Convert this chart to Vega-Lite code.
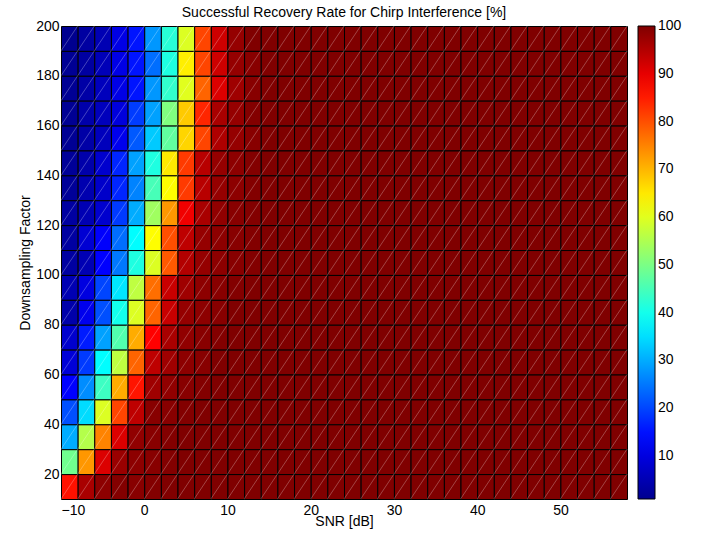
{
  "$schema": "https://vega.github.io/schema/vega-lite/v6.json",
  "width": 566,
  "height": 473,
  "autosize": {"type": "none"},
  "padding": {"left": 61, "top": 26, "right": 76, "bottom": 36},
  "background": "#ffffff",
  "title": {
    "text": "Successful Recovery Rate for Chirp Interference [%]",
    "font": "Liberation Sans",
    "fontSize": 14,
    "fontWeight": "normal",
    "color": "#000000",
    "anchor": "middle",
    "frame": "group",
    "baseline": "alphabetic",
    "offset": -12
  },
  "config": {
    "view": {"stroke": null},
    "font": "Liberation Sans",
    "axis": {
      "labelFont": "Liberation Sans",
      "labelFontSize": 14,
      "labelColor": "#000000",
      "titleFont": "Liberation Sans",
      "titleFontSize": 14,
      "titleFontWeight": "normal",
      "titleColor": "#000000",
      "ticks": false,
      "domain": false,
      "grid": false
    }
  },
  "data": {
    "values": [
      {"snr":-10,"factor":190,"rate":1},{"snr":-8,"factor":190,"rate":3},{"snr":-6,"factor":190,"rate":5},{"snr":-4,"factor":190,"rate":10.5},{"snr":-2,"factor":190,"rate":15.3},{"snr":0,"factor":190,"rate":28},{"snr":2,"factor":190,"rate":42},{"snr":4,"factor":190,"rate":59.5},{"snr":6,"factor":190,"rate":81},{"snr":8,"factor":190,"rate":92.5},{"snr":10,"factor":190,"rate":98},{"snr":12,"factor":190,"rate":100},{"snr":14,"factor":190,"rate":100},{"snr":16,"factor":190,"rate":100},{"snr":18,"factor":190,"rate":100},{"snr":20,"factor":190,"rate":100},{"snr":22,"factor":190,"rate":100},{"snr":24,"factor":190,"rate":100},{"snr":26,"factor":190,"rate":100},{"snr":28,"factor":190,"rate":100},{"snr":30,"factor":190,"rate":100},{"snr":32,"factor":190,"rate":100},{"snr":34,"factor":190,"rate":100},{"snr":36,"factor":190,"rate":100},{"snr":38,"factor":190,"rate":100},{"snr":40,"factor":190,"rate":100},{"snr":42,"factor":190,"rate":100},{"snr":44,"factor":190,"rate":100},{"snr":46,"factor":190,"rate":100},{"snr":48,"factor":190,"rate":100},{"snr":50,"factor":190,"rate":100},{"snr":52,"factor":190,"rate":100},{"snr":54,"factor":190,"rate":100},{"snr":56,"factor":190,"rate":100},
      {"snr":-10,"factor":180,"rate":1.5},{"snr":-8,"factor":180,"rate":3},{"snr":-6,"factor":180,"rate":5.5},{"snr":-4,"factor":180,"rate":10.5},{"snr":-2,"factor":180,"rate":15.3},{"snr":0,"factor":180,"rate":24},{"snr":2,"factor":180,"rate":41},{"snr":4,"factor":180,"rate":64.4},{"snr":6,"factor":180,"rate":81},{"snr":8,"factor":180,"rate":92.5},{"snr":10,"factor":180,"rate":98},{"snr":12,"factor":180,"rate":99.2},{"snr":14,"factor":180,"rate":100},{"snr":16,"factor":180,"rate":100},{"snr":18,"factor":180,"rate":100},{"snr":20,"factor":180,"rate":100},{"snr":22,"factor":180,"rate":100},{"snr":24,"factor":180,"rate":100},{"snr":26,"factor":180,"rate":100},{"snr":28,"factor":180,"rate":100},{"snr":30,"factor":180,"rate":100},{"snr":32,"factor":180,"rate":100},{"snr":34,"factor":180,"rate":100},{"snr":36,"factor":180,"rate":100},{"snr":38,"factor":180,"rate":100},{"snr":40,"factor":180,"rate":100},{"snr":42,"factor":180,"rate":100},{"snr":44,"factor":180,"rate":100},{"snr":46,"factor":180,"rate":100},{"snr":48,"factor":180,"rate":100},{"snr":50,"factor":180,"rate":100},{"snr":52,"factor":180,"rate":100},{"snr":54,"factor":180,"rate":100},{"snr":56,"factor":180,"rate":100},
      {"snr":-10,"factor":170,"rate":1.5},{"snr":-8,"factor":170,"rate":3.5},{"snr":-6,"factor":170,"rate":6},{"snr":-4,"factor":170,"rate":10.5},{"snr":-2,"factor":170,"rate":15.3},{"snr":0,"factor":170,"rate":28},{"snr":2,"factor":170,"rate":43},{"snr":4,"factor":170,"rate":60},{"snr":6,"factor":170,"rate":78},{"snr":8,"factor":170,"rate":91},{"snr":10,"factor":170,"rate":97},{"snr":12,"factor":170,"rate":99.2},{"snr":14,"factor":170,"rate":100},{"snr":16,"factor":170,"rate":100},{"snr":18,"factor":170,"rate":100},{"snr":20,"factor":170,"rate":100},{"snr":22,"factor":170,"rate":100},{"snr":24,"factor":170,"rate":100},{"snr":26,"factor":170,"rate":100},{"snr":28,"factor":170,"rate":100},{"snr":30,"factor":170,"rate":100},{"snr":32,"factor":170,"rate":100},{"snr":34,"factor":170,"rate":100},{"snr":36,"factor":170,"rate":100},{"snr":38,"factor":170,"rate":100},{"snr":40,"factor":170,"rate":100},{"snr":42,"factor":170,"rate":100},{"snr":44,"factor":170,"rate":100},{"snr":46,"factor":170,"rate":100},{"snr":48,"factor":170,"rate":100},{"snr":50,"factor":170,"rate":100},{"snr":52,"factor":170,"rate":100},{"snr":54,"factor":170,"rate":100},{"snr":56,"factor":170,"rate":100},
      {"snr":-10,"factor":160,"rate":1.5},{"snr":-8,"factor":160,"rate":4},{"snr":-6,"factor":160,"rate":6},{"snr":-4,"factor":160,"rate":9.5},{"snr":-2,"factor":160,"rate":19.2},{"snr":0,"factor":160,"rate":29},{"snr":2,"factor":160,"rate":50.5},{"snr":4,"factor":160,"rate":68},{"snr":6,"factor":160,"rate":84},{"snr":8,"factor":160,"rate":96},{"snr":10,"factor":160,"rate":98},{"snr":12,"factor":160,"rate":99.7},{"snr":14,"factor":160,"rate":100},{"snr":16,"factor":160,"rate":100},{"snr":18,"factor":160,"rate":100},{"snr":20,"factor":160,"rate":100},{"snr":22,"factor":160,"rate":100},{"snr":24,"factor":160,"rate":100},{"snr":26,"factor":160,"rate":100},{"snr":28,"factor":160,"rate":100},{"snr":30,"factor":160,"rate":100},{"snr":32,"factor":160,"rate":100},{"snr":34,"factor":160,"rate":100},{"snr":36,"factor":160,"rate":100},{"snr":38,"factor":160,"rate":100},{"snr":40,"factor":160,"rate":100},{"snr":42,"factor":160,"rate":100},{"snr":44,"factor":160,"rate":100},{"snr":46,"factor":160,"rate":100},{"snr":48,"factor":160,"rate":100},{"snr":50,"factor":160,"rate":100},{"snr":52,"factor":160,"rate":100},{"snr":54,"factor":160,"rate":100},{"snr":56,"factor":160,"rate":100},
      {"snr":-10,"factor":150,"rate":1.5},{"snr":-8,"factor":150,"rate":3.5},{"snr":-6,"factor":150,"rate":6},{"snr":-4,"factor":150,"rate":11.4},{"snr":-2,"factor":150,"rate":22},{"snr":0,"factor":150,"rate":33},{"snr":2,"factor":150,"rate":47.5},{"snr":4,"factor":150,"rate":67},{"snr":6,"factor":150,"rate":81},{"snr":8,"factor":150,"rate":95.5},{"snr":10,"factor":150,"rate":98},{"snr":12,"factor":150,"rate":99.2},{"snr":14,"factor":150,"rate":100},{"snr":16,"factor":150,"rate":100},{"snr":18,"factor":150,"rate":100},{"snr":20,"factor":150,"rate":100},{"snr":22,"factor":150,"rate":100},{"snr":24,"factor":150,"rate":100},{"snr":26,"factor":150,"rate":100},{"snr":28,"factor":150,"rate":100},{"snr":30,"factor":150,"rate":100},{"snr":32,"factor":150,"rate":100},{"snr":34,"factor":150,"rate":100},{"snr":36,"factor":150,"rate":100},{"snr":38,"factor":150,"rate":100},{"snr":40,"factor":150,"rate":100},{"snr":42,"factor":150,"rate":100},{"snr":44,"factor":150,"rate":100},{"snr":46,"factor":150,"rate":100},{"snr":48,"factor":150,"rate":100},{"snr":50,"factor":150,"rate":100},{"snr":52,"factor":150,"rate":100},{"snr":54,"factor":150,"rate":100},{"snr":56,"factor":150,"rate":100},
      {"snr":-10,"factor":140,"rate":2},{"snr":-8,"factor":140,"rate":4},{"snr":-6,"factor":140,"rate":8},{"snr":-4,"factor":140,"rate":17},{"snr":-2,"factor":140,"rate":29},{"snr":0,"factor":140,"rate":41},{"snr":2,"factor":140,"rate":65},{"snr":4,"factor":140,"rate":82},{"snr":6,"factor":140,"rate":94.5},{"snr":8,"factor":140,"rate":98},{"snr":10,"factor":140,"rate":98.7},{"snr":12,"factor":140,"rate":99.7},{"snr":14,"factor":140,"rate":100},{"snr":16,"factor":140,"rate":100},{"snr":18,"factor":140,"rate":100},{"snr":20,"factor":140,"rate":100},{"snr":22,"factor":140,"rate":100},{"snr":24,"factor":140,"rate":100},{"snr":26,"factor":140,"rate":100},{"snr":28,"factor":140,"rate":100},{"snr":30,"factor":140,"rate":100},{"snr":32,"factor":140,"rate":100},{"snr":34,"factor":140,"rate":100},{"snr":36,"factor":140,"rate":100},{"snr":38,"factor":140,"rate":100},{"snr":40,"factor":140,"rate":100},{"snr":42,"factor":140,"rate":100},{"snr":44,"factor":140,"rate":100},{"snr":46,"factor":140,"rate":100},{"snr":48,"factor":140,"rate":100},{"snr":50,"factor":140,"rate":100},{"snr":52,"factor":140,"rate":100},{"snr":54,"factor":140,"rate":100},{"snr":56,"factor":140,"rate":100},
      {"snr":-10,"factor":130,"rate":2},{"snr":-8,"factor":130,"rate":4.5},{"snr":-6,"factor":130,"rate":7.5},{"snr":-4,"factor":130,"rate":17},{"snr":-2,"factor":130,"rate":26},{"snr":0,"factor":130,"rate":45},{"snr":2,"factor":130,"rate":63},{"snr":4,"factor":130,"rate":82},{"snr":6,"factor":130,"rate":94.5},{"snr":8,"factor":130,"rate":98},{"snr":10,"factor":130,"rate":98.7},{"snr":12,"factor":130,"rate":99.7},{"snr":14,"factor":130,"rate":100},{"snr":16,"factor":130,"rate":100},{"snr":18,"factor":130,"rate":100},{"snr":20,"factor":130,"rate":100},{"snr":22,"factor":130,"rate":100},{"snr":24,"factor":130,"rate":100},{"snr":26,"factor":130,"rate":100},{"snr":28,"factor":130,"rate":100},{"snr":30,"factor":130,"rate":100},{"snr":32,"factor":130,"rate":100},{"snr":34,"factor":130,"rate":100},{"snr":36,"factor":130,"rate":100},{"snr":38,"factor":130,"rate":100},{"snr":40,"factor":130,"rate":100},{"snr":42,"factor":130,"rate":100},{"snr":44,"factor":130,"rate":100},{"snr":46,"factor":130,"rate":100},{"snr":48,"factor":130,"rate":100},{"snr":50,"factor":130,"rate":100},{"snr":52,"factor":130,"rate":100},{"snr":54,"factor":130,"rate":100},{"snr":56,"factor":130,"rate":100},
      {"snr":-10,"factor":120,"rate":3},{"snr":-8,"factor":120,"rate":5},{"snr":-6,"factor":120,"rate":8},{"snr":-4,"factor":120,"rate":19},{"snr":-2,"factor":120,"rate":30},{"snr":0,"factor":120,"rate":53.6},{"snr":2,"factor":120,"rate":73},{"snr":4,"factor":120,"rate":89},{"snr":6,"factor":120,"rate":96},{"snr":8,"factor":120,"rate":98.3},{"snr":10,"factor":120,"rate":99.2},{"snr":12,"factor":120,"rate":99.7},{"snr":14,"factor":120,"rate":100},{"snr":16,"factor":120,"rate":100},{"snr":18,"factor":120,"rate":100},{"snr":20,"factor":120,"rate":100},{"snr":22,"factor":120,"rate":100},{"snr":24,"factor":120,"rate":100},{"snr":26,"factor":120,"rate":100},{"snr":28,"factor":120,"rate":100},{"snr":30,"factor":120,"rate":100},{"snr":32,"factor":120,"rate":100},{"snr":34,"factor":120,"rate":100},{"snr":36,"factor":120,"rate":100},{"snr":38,"factor":120,"rate":100},{"snr":40,"factor":120,"rate":100},{"snr":42,"factor":120,"rate":100},{"snr":44,"factor":120,"rate":100},{"snr":46,"factor":120,"rate":100},{"snr":48,"factor":120,"rate":100},{"snr":50,"factor":120,"rate":100},{"snr":52,"factor":120,"rate":100},{"snr":54,"factor":120,"rate":100},{"snr":56,"factor":120,"rate":100},
      {"snr":-10,"factor":110,"rate":3},{"snr":-8,"factor":110,"rate":8.5},{"snr":-6,"factor":110,"rate":13},{"snr":-4,"factor":110,"rate":24},{"snr":-2,"factor":110,"rate":38},{"snr":0,"factor":110,"rate":63},{"snr":2,"factor":110,"rate":80},{"snr":4,"factor":110,"rate":94},{"snr":6,"factor":110,"rate":98},{"snr":8,"factor":110,"rate":98.7},{"snr":10,"factor":110,"rate":99.2},{"snr":12,"factor":110,"rate":99.7},{"snr":14,"factor":110,"rate":100},{"snr":16,"factor":110,"rate":100},{"snr":18,"factor":110,"rate":100},{"snr":20,"factor":110,"rate":100},{"snr":22,"factor":110,"rate":100},{"snr":24,"factor":110,"rate":100},{"snr":26,"factor":110,"rate":100},{"snr":28,"factor":110,"rate":100},{"snr":30,"factor":110,"rate":100},{"snr":32,"factor":110,"rate":100},{"snr":34,"factor":110,"rate":100},{"snr":36,"factor":110,"rate":100},{"snr":38,"factor":110,"rate":100},{"snr":40,"factor":110,"rate":100},{"snr":42,"factor":110,"rate":100},{"snr":44,"factor":110,"rate":100},{"snr":46,"factor":110,"rate":100},{"snr":48,"factor":110,"rate":100},{"snr":50,"factor":110,"rate":100},{"snr":52,"factor":110,"rate":100},{"snr":54,"factor":110,"rate":100},{"snr":56,"factor":110,"rate":100},
      {"snr":-10,"factor":100,"rate":3},{"snr":-8,"factor":100,"rate":5},{"snr":-6,"factor":100,"rate":13.4},{"snr":-4,"factor":100,"rate":25},{"snr":-2,"factor":100,"rate":41},{"snr":0,"factor":100,"rate":59.5},{"snr":2,"factor":100,"rate":79},{"snr":4,"factor":100,"rate":95},{"snr":6,"factor":100,"rate":98},{"snr":8,"factor":100,"rate":98.7},{"snr":10,"factor":100,"rate":99.2},{"snr":12,"factor":100,"rate":99.7},{"snr":14,"factor":100,"rate":100},{"snr":16,"factor":100,"rate":100},{"snr":18,"factor":100,"rate":100},{"snr":20,"factor":100,"rate":100},{"snr":22,"factor":100,"rate":100},{"snr":24,"factor":100,"rate":100},{"snr":26,"factor":100,"rate":100},{"snr":28,"factor":100,"rate":100},{"snr":30,"factor":100,"rate":100},{"snr":32,"factor":100,"rate":100},{"snr":34,"factor":100,"rate":100},{"snr":36,"factor":100,"rate":100},{"snr":38,"factor":100,"rate":100},{"snr":40,"factor":100,"rate":100},{"snr":42,"factor":100,"rate":100},{"snr":44,"factor":100,"rate":100},{"snr":46,"factor":100,"rate":100},{"snr":48,"factor":100,"rate":100},{"snr":50,"factor":100,"rate":100},{"snr":52,"factor":100,"rate":100},{"snr":54,"factor":100,"rate":100},{"snr":56,"factor":100,"rate":100},
      {"snr":-10,"factor":90,"rate":5},{"snr":-8,"factor":90,"rate":10},{"snr":-6,"factor":90,"rate":20},{"snr":-4,"factor":90,"rate":35.7},{"snr":-2,"factor":90,"rate":56.6},{"snr":0,"factor":90,"rate":77},{"snr":2,"factor":90,"rate":93},{"snr":4,"factor":90,"rate":97},{"snr":6,"factor":90,"rate":98.7},{"snr":8,"factor":90,"rate":99.2},{"snr":10,"factor":90,"rate":99.7},{"snr":12,"factor":90,"rate":100},{"snr":14,"factor":90,"rate":100},{"snr":16,"factor":90,"rate":100},{"snr":18,"factor":90,"rate":100},{"snr":20,"factor":90,"rate":100},{"snr":22,"factor":90,"rate":100},{"snr":24,"factor":90,"rate":100},{"snr":26,"factor":90,"rate":100},{"snr":28,"factor":90,"rate":100},{"snr":30,"factor":90,"rate":100},{"snr":32,"factor":90,"rate":100},{"snr":34,"factor":90,"rate":100},{"snr":36,"factor":90,"rate":100},{"snr":38,"factor":90,"rate":100},{"snr":40,"factor":90,"rate":100},{"snr":42,"factor":90,"rate":100},{"snr":44,"factor":90,"rate":100},{"snr":46,"factor":90,"rate":100},{"snr":48,"factor":90,"rate":100},{"snr":50,"factor":90,"rate":100},{"snr":52,"factor":90,"rate":100},{"snr":54,"factor":90,"rate":100},{"snr":56,"factor":90,"rate":100},
      {"snr":-10,"factor":80,"rate":4},{"snr":-8,"factor":80,"rate":11.4},{"snr":-6,"factor":80,"rate":21},{"snr":-4,"factor":80,"rate":40},{"snr":-2,"factor":80,"rate":59.5},{"snr":0,"factor":80,"rate":78},{"snr":2,"factor":80,"rate":93},{"snr":4,"factor":80,"rate":98},{"snr":6,"factor":80,"rate":98.7},{"snr":8,"factor":80,"rate":99.2},{"snr":10,"factor":80,"rate":100},{"snr":12,"factor":80,"rate":100},{"snr":14,"factor":80,"rate":100},{"snr":16,"factor":80,"rate":100},{"snr":18,"factor":80,"rate":100},{"snr":20,"factor":80,"rate":100},{"snr":22,"factor":80,"rate":100},{"snr":24,"factor":80,"rate":100},{"snr":26,"factor":80,"rate":100},{"snr":28,"factor":80,"rate":100},{"snr":30,"factor":80,"rate":100},{"snr":32,"factor":80,"rate":100},{"snr":34,"factor":80,"rate":100},{"snr":36,"factor":80,"rate":100},{"snr":38,"factor":80,"rate":100},{"snr":40,"factor":80,"rate":100},{"snr":42,"factor":80,"rate":100},{"snr":44,"factor":80,"rate":100},{"snr":46,"factor":80,"rate":100},{"snr":48,"factor":80,"rate":100},{"snr":50,"factor":80,"rate":100},{"snr":52,"factor":80,"rate":100},{"snr":54,"factor":80,"rate":100},{"snr":56,"factor":80,"rate":100},
      {"snr":-10,"factor":70,"rate":8},{"snr":-8,"factor":70,"rate":16},{"snr":-6,"factor":70,"rate":29},{"snr":-4,"factor":70,"rate":46},{"snr":-2,"factor":70,"rate":71},{"snr":0,"factor":70,"rate":87.6},{"snr":2,"factor":70,"rate":96},{"snr":4,"factor":70,"rate":98.3},{"snr":6,"factor":70,"rate":99.2},{"snr":8,"factor":70,"rate":99.7},{"snr":10,"factor":70,"rate":100},{"snr":12,"factor":70,"rate":100},{"snr":14,"factor":70,"rate":100},{"snr":16,"factor":70,"rate":100},{"snr":18,"factor":70,"rate":100},{"snr":20,"factor":70,"rate":100},{"snr":22,"factor":70,"rate":100},{"snr":24,"factor":70,"rate":100},{"snr":26,"factor":70,"rate":100},{"snr":28,"factor":70,"rate":100},{"snr":30,"factor":70,"rate":100},{"snr":32,"factor":70,"rate":100},{"snr":34,"factor":70,"rate":100},{"snr":36,"factor":70,"rate":100},{"snr":38,"factor":70,"rate":100},{"snr":40,"factor":70,"rate":100},{"snr":42,"factor":70,"rate":100},{"snr":44,"factor":70,"rate":100},{"snr":46,"factor":70,"rate":100},{"snr":48,"factor":70,"rate":100},{"snr":50,"factor":70,"rate":100},{"snr":52,"factor":70,"rate":100},{"snr":54,"factor":70,"rate":100},{"snr":56,"factor":70,"rate":100},
      {"snr":-10,"factor":60,"rate":9},{"snr":-8,"factor":60,"rate":19},{"snr":-6,"factor":60,"rate":38},{"snr":-4,"factor":60,"rate":56.6},{"snr":-2,"factor":60,"rate":78},{"snr":0,"factor":60,"rate":94},{"snr":2,"factor":60,"rate":97},{"snr":4,"factor":60,"rate":98.7},{"snr":6,"factor":60,"rate":99.2},{"snr":8,"factor":60,"rate":100},{"snr":10,"factor":60,"rate":100},{"snr":12,"factor":60,"rate":100},{"snr":14,"factor":60,"rate":100},{"snr":16,"factor":60,"rate":100},{"snr":18,"factor":60,"rate":100},{"snr":20,"factor":60,"rate":100},{"snr":22,"factor":60,"rate":100},{"snr":24,"factor":60,"rate":100},{"snr":26,"factor":60,"rate":100},{"snr":28,"factor":60,"rate":100},{"snr":30,"factor":60,"rate":100},{"snr":32,"factor":60,"rate":100},{"snr":34,"factor":60,"rate":100},{"snr":36,"factor":60,"rate":100},{"snr":38,"factor":60,"rate":100},{"snr":40,"factor":60,"rate":100},{"snr":42,"factor":60,"rate":100},{"snr":44,"factor":60,"rate":100},{"snr":46,"factor":60,"rate":100},{"snr":48,"factor":60,"rate":100},{"snr":50,"factor":60,"rate":100},{"snr":52,"factor":60,"rate":100},{"snr":54,"factor":60,"rate":100},{"snr":56,"factor":60,"rate":100},
      {"snr":-10,"factor":50,"rate":13.4},{"snr":-8,"factor":50,"rate":27},{"snr":-6,"factor":50,"rate":44},{"snr":-4,"factor":50,"rate":71},{"snr":-2,"factor":50,"rate":85.7},{"snr":0,"factor":50,"rate":97},{"snr":2,"factor":50,"rate":98.3},{"snr":4,"factor":50,"rate":99.2},{"snr":6,"factor":50,"rate":99.7},{"snr":8,"factor":50,"rate":100},{"snr":10,"factor":50,"rate":100},{"snr":12,"factor":50,"rate":100},{"snr":14,"factor":50,"rate":100},{"snr":16,"factor":50,"rate":100},{"snr":18,"factor":50,"rate":100},{"snr":20,"factor":50,"rate":100},{"snr":22,"factor":50,"rate":100},{"snr":24,"factor":50,"rate":100},{"snr":26,"factor":50,"rate":100},{"snr":28,"factor":50,"rate":100},{"snr":30,"factor":50,"rate":100},{"snr":32,"factor":50,"rate":100},{"snr":34,"factor":50,"rate":100},{"snr":36,"factor":50,"rate":100},{"snr":38,"factor":50,"rate":100},{"snr":40,"factor":50,"rate":100},{"snr":42,"factor":50,"rate":100},{"snr":44,"factor":50,"rate":100},{"snr":46,"factor":50,"rate":100},{"snr":48,"factor":50,"rate":100},{"snr":50,"factor":50,"rate":100},{"snr":52,"factor":50,"rate":100},{"snr":54,"factor":50,"rate":100},{"snr":56,"factor":50,"rate":100},
      {"snr":-10,"factor":40,"rate":21},{"snr":-8,"factor":40,"rate":34.7},{"snr":-6,"factor":40,"rate":59.5},{"snr":-4,"factor":40,"rate":81},{"snr":-2,"factor":40,"rate":94},{"snr":0,"factor":40,"rate":99.2},{"snr":2,"factor":40,"rate":99.2},{"snr":4,"factor":40,"rate":99.7},{"snr":6,"factor":40,"rate":100},{"snr":8,"factor":40,"rate":100},{"snr":10,"factor":40,"rate":100},{"snr":12,"factor":40,"rate":100},{"snr":14,"factor":40,"rate":100},{"snr":16,"factor":40,"rate":100},{"snr":18,"factor":40,"rate":100},{"snr":20,"factor":40,"rate":100},{"snr":22,"factor":40,"rate":100},{"snr":24,"factor":40,"rate":100},{"snr":26,"factor":40,"rate":100},{"snr":28,"factor":40,"rate":100},{"snr":30,"factor":40,"rate":100},{"snr":32,"factor":40,"rate":100},{"snr":34,"factor":40,"rate":100},{"snr":36,"factor":40,"rate":100},{"snr":38,"factor":40,"rate":100},{"snr":40,"factor":40,"rate":100},{"snr":42,"factor":40,"rate":100},{"snr":44,"factor":40,"rate":100},{"snr":46,"factor":40,"rate":100},{"snr":48,"factor":40,"rate":100},{"snr":50,"factor":40,"rate":100},{"snr":52,"factor":40,"rate":100},{"snr":54,"factor":40,"rate":100},{"snr":56,"factor":40,"rate":100},
      {"snr":-10,"factor":30,"rate":30},{"snr":-8,"factor":30,"rate":55.6},{"snr":-6,"factor":30,"rate":75},{"snr":-4,"factor":30,"rate":91},{"snr":-2,"factor":30,"rate":98.3},{"snr":0,"factor":30,"rate":99.2},{"snr":2,"factor":30,"rate":99.7},{"snr":4,"factor":30,"rate":100},{"snr":6,"factor":30,"rate":100},{"snr":8,"factor":30,"rate":100},{"snr":10,"factor":30,"rate":100},{"snr":12,"factor":30,"rate":100},{"snr":14,"factor":30,"rate":100},{"snr":16,"factor":30,"rate":100},{"snr":18,"factor":30,"rate":100},{"snr":20,"factor":30,"rate":100},{"snr":22,"factor":30,"rate":100},{"snr":24,"factor":30,"rate":100},{"snr":26,"factor":30,"rate":100},{"snr":28,"factor":30,"rate":100},{"snr":30,"factor":30,"rate":100},{"snr":32,"factor":30,"rate":100},{"snr":34,"factor":30,"rate":100},{"snr":36,"factor":30,"rate":100},{"snr":38,"factor":30,"rate":100},{"snr":40,"factor":30,"rate":100},{"snr":42,"factor":30,"rate":100},{"snr":44,"factor":30,"rate":100},{"snr":46,"factor":30,"rate":100},{"snr":48,"factor":30,"rate":100},{"snr":50,"factor":30,"rate":100},{"snr":52,"factor":30,"rate":100},{"snr":54,"factor":30,"rate":100},{"snr":56,"factor":30,"rate":100},
      {"snr":-10,"factor":20,"rate":49},{"snr":-8,"factor":20,"rate":73},{"snr":-6,"factor":20,"rate":91},{"snr":-4,"factor":20,"rate":97.5},{"snr":-2,"factor":20,"rate":98.7},{"snr":0,"factor":20,"rate":99.2},{"snr":2,"factor":20,"rate":99.7},{"snr":4,"factor":20,"rate":100},{"snr":6,"factor":20,"rate":100},{"snr":8,"factor":20,"rate":100},{"snr":10,"factor":20,"rate":100},{"snr":12,"factor":20,"rate":100},{"snr":14,"factor":20,"rate":100},{"snr":16,"factor":20,"rate":100},{"snr":18,"factor":20,"rate":100},{"snr":20,"factor":20,"rate":100},{"snr":22,"factor":20,"rate":100},{"snr":24,"factor":20,"rate":100},{"snr":26,"factor":20,"rate":100},{"snr":28,"factor":20,"rate":100},{"snr":30,"factor":20,"rate":100},{"snr":32,"factor":20,"rate":100},{"snr":34,"factor":20,"rate":100},{"snr":36,"factor":20,"rate":100},{"snr":38,"factor":20,"rate":100},{"snr":40,"factor":20,"rate":100},{"snr":42,"factor":20,"rate":100},{"snr":44,"factor":20,"rate":100},{"snr":46,"factor":20,"rate":100},{"snr":48,"factor":20,"rate":100},{"snr":50,"factor":20,"rate":100},{"snr":52,"factor":20,"rate":100},{"snr":54,"factor":20,"rate":100},{"snr":56,"factor":20,"rate":100},
      {"snr":-10,"factor":10,"rate":86},{"snr":-8,"factor":10,"rate":96},{"snr":-6,"factor":10,"rate":98.7},{"snr":-4,"factor":10,"rate":99.7},{"snr":-2,"factor":10,"rate":99.2},{"snr":0,"factor":10,"rate":99.7},{"snr":2,"factor":10,"rate":100},{"snr":4,"factor":10,"rate":100},{"snr":6,"factor":10,"rate":100},{"snr":8,"factor":10,"rate":100},{"snr":10,"factor":10,"rate":100},{"snr":12,"factor":10,"rate":100},{"snr":14,"factor":10,"rate":100},{"snr":16,"factor":10,"rate":100},{"snr":18,"factor":10,"rate":100},{"snr":20,"factor":10,"rate":100},{"snr":22,"factor":10,"rate":100},{"snr":24,"factor":10,"rate":100},{"snr":26,"factor":10,"rate":100},{"snr":28,"factor":10,"rate":100},{"snr":30,"factor":10,"rate":100},{"snr":32,"factor":10,"rate":100},{"snr":34,"factor":10,"rate":100},{"snr":36,"factor":10,"rate":100},{"snr":38,"factor":10,"rate":100},{"snr":40,"factor":10,"rate":100},{"snr":42,"factor":10,"rate":100},{"snr":44,"factor":10,"rate":100},{"snr":46,"factor":10,"rate":100},{"snr":48,"factor":10,"rate":100},{"snr":50,"factor":10,"rate":100},{"snr":52,"factor":10,"rate":100},{"snr":54,"factor":10,"rate":100},{"snr":56,"factor":10,"rate":100}
    ]
  },
  "layer": [
    {
      "mark": {"type": "rect", "stroke": "#000000", "strokeWidth": 1},
      "encoding": {
        "x": {
          "field": "snr",
          "type": "quantitative",
          "bin": {"binned": true, "step": 2},
          "scale": {"domain": [-10, 58], "nice": false, "zero": false},
          "axis": {"values": [-10, 0, 10, 20, 30, 40, 50], "labelPadding": 4, "titleBaseline": "alphabetic", "titleY": 26},
          "title": "SNR [dB]"
        },
        "y": {
          "field": "factor",
          "type": "quantitative",
          "bin": {"binned": true, "step": 10},
          "scale": {"domain": [10, 200], "nice": false, "zero": false},
          "axis": {"values": [20, 40, 60, 80, 100, 120, 140, 160, 180, 200], "labelPadding": 2, "titleBaseline": "alphabetic", "titleX": -32},
          "title": "Downsampling Factor"
        },
        "color": {
          "field": "rate",
          "type": "quantitative",
          "scale": {
            "domain": [1, 100],
            "range": ["#00008f", "#0000ff", "#0080ff", "#00ffff", "#80ff80", "#ffff00", "#ff8000", "#ff0000", "#800000"],
            "interpolate": "rgb"
          },
          "legend": {
            "title": null,
            "orient": "right",
            "direction": "vertical",
            "offset": 11,
            "padding": 0,
            "gradientLength": 473,
            "gradientThickness": 17,
            "gradientStrokeColor": "#000000",
            "gradientStrokeWidth": 1,
            "values": [10, 20, 30, 40, 50, 60, 70, 80, 90, 100],
            "labelFont": "Liberation Sans",
            "labelFontSize": 14,
            "labelColor": "#000000",
            "labelOffset": 3,
            "encode": {"labels": {"update": {"baseline": {"value": "middle"}}}}
          }
        }
      }
    },
    {
      "mark": {
        "type": "point",
        "shape": "M0,0L1.337,-2",
        "size": 620,
        "filled": false,
        "color": "#ffffff",
        "strokeWidth": 0.6,
        "opacity": 0.45
      },
      "encoding": {
        "x": {"field": "snr", "type": "quantitative", "title": "SNR [dB]"},
        "y": {"field": "factor", "type": "quantitative", "title": "Downsampling Factor"}
      }
    }
  ]
}
